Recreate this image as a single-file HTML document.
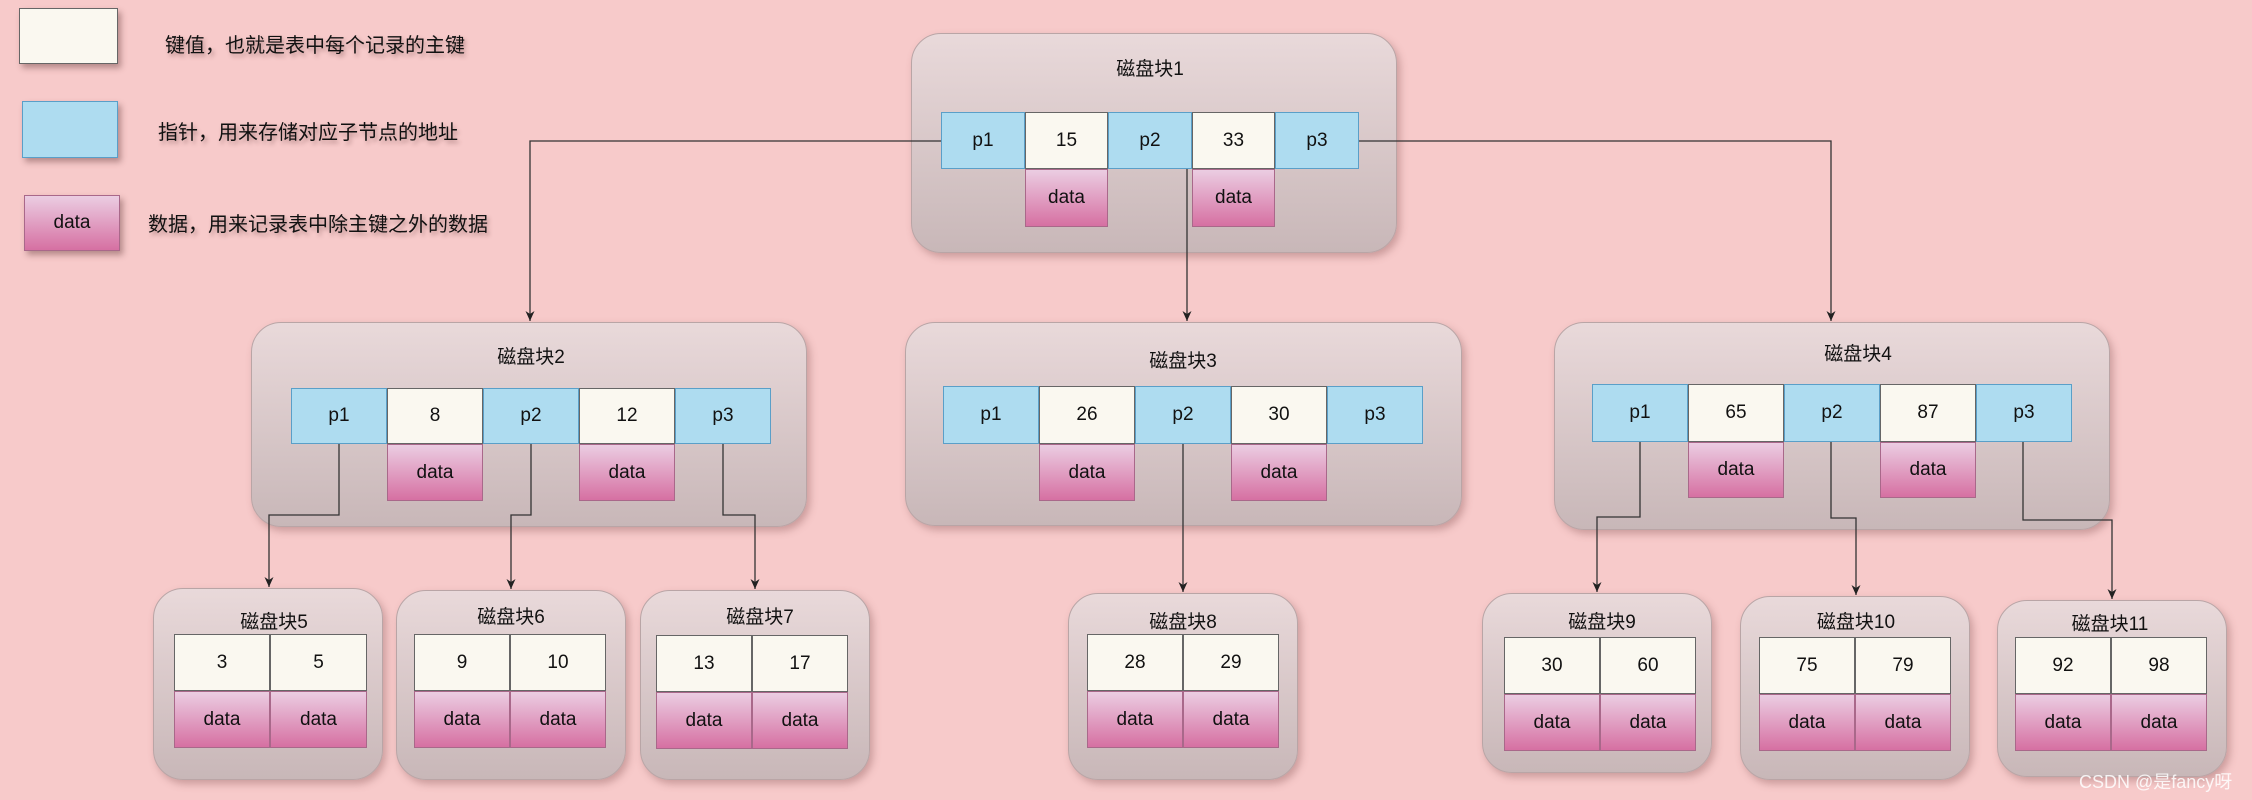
<!DOCTYPE html>
<html><head><meta charset="utf-8"><style>
body{margin:0;width:2252px;height:800px;background:#f7caca;position:relative;overflow:hidden;font-family:"Liberation Sans","Noto Sans CJK SC",sans-serif;color:#111}
.b{position:absolute;border-radius:30px;background:linear-gradient(#e9d9da,#c8b7b8);border:1px solid #b9a5a6;box-shadow:3px 4px 8px rgba(120,70,70,.35);box-sizing:border-box}
.c{position:absolute;box-sizing:border-box;display:flex;align-items:center;justify-content:center;font-size:19px}
.p{background:#aedcf0;border:1px solid #5a9fc8}
.k{background:#faf8f0;border:1px solid #666}
.d{background:linear-gradient(#ebcde2,#d670a2);border:1px solid #a9688a}
.t{position:absolute;font-size:19px;transform:translateX(-50%);white-space:nowrap}
.lg{position:absolute;font-size:20px;text-shadow:2px 3px 4px rgba(80,40,40,.4);white-space:nowrap}
</style></head><body>
<!-- legend -->
<div class="c k" style="left:19px;top:8px;width:99px;height:56px;box-shadow:3px 4px 6px rgba(80,40,40,.4)"></div>
<div class="lg" style="left:165px;top:29px">键值，也就是表中每个记录的主键</div>
<div class="c p" style="left:22px;top:101px;width:96px;height:57px;box-shadow:3px 4px 6px rgba(80,40,40,.4)"></div>
<div class="lg" style="left:158px;top:116px">指针，用来存储对应子节点的地址</div>
<div class="c d" style="left:24px;top:195px;width:96px;height:56px;box-shadow:3px 4px 6px rgba(80,40,40,.4)">data</div>
<div class="lg" style="left:148px;top:208px">数据，用来记录表中除主键之外的数据</div>

<!-- block1 -->
<div class="b" style="left:911px;top:33px;width:486px;height:220px"></div>
<div class="t" style="left:1150px;top:54px">磁盘块1</div>
<div class="c p" style="left:941px;top:112px;width:84px;height:57px">p1</div>
<div class="c k" style="left:1025px;top:112px;width:83px;height:57px">15</div>
<div class="c p" style="left:1108px;top:112px;width:84px;height:57px">p2</div>
<div class="c k" style="left:1192px;top:112px;width:83px;height:57px">33</div>
<div class="c p" style="left:1275px;top:112px;width:84px;height:57px">p3</div>
<div class="c d" style="left:1025px;top:169px;width:83px;height:58px">data</div>
<div class="c d" style="left:1192px;top:169px;width:83px;height:58px">data</div>

<!-- block2 -->
<div class="b" style="left:251px;top:322px;width:556px;height:205px"></div>
<div class="t" style="left:531px;top:342px">磁盘块2</div>
<div class="c p" style="left:291px;top:388px;width:96px;height:56px">p1</div>
<div class="c k" style="left:387px;top:388px;width:96px;height:56px">8</div>
<div class="c p" style="left:483px;top:388px;width:96px;height:56px">p2</div>
<div class="c k" style="left:579px;top:388px;width:96px;height:56px">12</div>
<div class="c p" style="left:675px;top:388px;width:96px;height:56px">p3</div>
<div class="c d" style="left:387px;top:444px;width:96px;height:57px">data</div>
<div class="c d" style="left:579px;top:444px;width:96px;height:57px">data</div>

<!-- block3 -->
<div class="b" style="left:905px;top:322px;width:557px;height:204px"></div>
<div class="t" style="left:1183px;top:346px">磁盘块3</div>
<div class="c p" style="left:943px;top:386px;width:96px;height:58px">p1</div>
<div class="c k" style="left:1039px;top:386px;width:96px;height:58px">26</div>
<div class="c p" style="left:1135px;top:386px;width:96px;height:58px">p2</div>
<div class="c k" style="left:1231px;top:386px;width:96px;height:58px">30</div>
<div class="c p" style="left:1327px;top:386px;width:96px;height:58px">p3</div>
<div class="c d" style="left:1039px;top:444px;width:96px;height:57px">data</div>
<div class="c d" style="left:1231px;top:444px;width:96px;height:57px">data</div>

<!-- block4 -->
<div class="b" style="left:1554px;top:322px;width:556px;height:208px"></div>
<div class="t" style="left:1858px;top:339px">磁盘块4</div>
<div class="c p" style="left:1592px;top:384px;width:96px;height:58px">p1</div>
<div class="c k" style="left:1688px;top:384px;width:96px;height:58px">65</div>
<div class="c p" style="left:1784px;top:384px;width:96px;height:58px">p2</div>
<div class="c k" style="left:1880px;top:384px;width:96px;height:58px">87</div>
<div class="c p" style="left:1976px;top:384px;width:96px;height:58px">p3</div>
<div class="c d" style="left:1688px;top:442px;width:96px;height:56px">data</div>
<div class="c d" style="left:1880px;top:442px;width:96px;height:56px">data</div>

<!-- leaves -->
<div class="b" style="left:153px;top:588px;width:230px;height:192px"></div>
<div class="t" style="left:274px;top:607px">磁盘块5</div>
<div class="c k" style="left:174px;top:634px;width:96px;height:57px">3</div>
<div class="c k" style="left:270px;top:634px;width:97px;height:57px">5</div>
<div class="c d" style="left:174px;top:691px;width:96px;height:57px">data</div>
<div class="c d" style="left:270px;top:691px;width:97px;height:57px">data</div>

<div class="b" style="left:396px;top:590px;width:230px;height:190px"></div>
<div class="t" style="left:511px;top:602px">磁盘块6</div>
<div class="c k" style="left:414px;top:634px;width:96px;height:57px">9</div>
<div class="c k" style="left:510px;top:634px;width:96px;height:57px">10</div>
<div class="c d" style="left:414px;top:691px;width:96px;height:57px">data</div>
<div class="c d" style="left:510px;top:691px;width:96px;height:57px">data</div>

<div class="b" style="left:640px;top:590px;width:230px;height:190px"></div>
<div class="t" style="left:760px;top:602px">磁盘块7</div>
<div class="c k" style="left:656px;top:635px;width:96px;height:57px">13</div>
<div class="c k" style="left:752px;top:635px;width:96px;height:57px">17</div>
<div class="c d" style="left:656px;top:692px;width:96px;height:57px">data</div>
<div class="c d" style="left:752px;top:692px;width:96px;height:57px">data</div>

<div class="b" style="left:1068px;top:593px;width:230px;height:187px"></div>
<div class="t" style="left:1183px;top:607px">磁盘块8</div>
<div class="c k" style="left:1087px;top:634px;width:96px;height:57px">28</div>
<div class="c k" style="left:1183px;top:634px;width:96px;height:57px">29</div>
<div class="c d" style="left:1087px;top:691px;width:96px;height:57px">data</div>
<div class="c d" style="left:1183px;top:691px;width:96px;height:57px">data</div>

<div class="b" style="left:1482px;top:593px;width:230px;height:180px"></div>
<div class="t" style="left:1602px;top:607px">磁盘块9</div>
<div class="c k" style="left:1504px;top:637px;width:96px;height:57px">30</div>
<div class="c k" style="left:1600px;top:637px;width:96px;height:57px">60</div>
<div class="c d" style="left:1504px;top:694px;width:96px;height:57px">data</div>
<div class="c d" style="left:1600px;top:694px;width:96px;height:57px">data</div>

<div class="b" style="left:1740px;top:596px;width:230px;height:184px"></div>
<div class="t" style="left:1856px;top:607px">磁盘块10</div>
<div class="c k" style="left:1759px;top:637px;width:96px;height:57px">75</div>
<div class="c k" style="left:1855px;top:637px;width:96px;height:57px">79</div>
<div class="c d" style="left:1759px;top:694px;width:96px;height:57px">data</div>
<div class="c d" style="left:1855px;top:694px;width:96px;height:57px">data</div>

<div class="b" style="left:1997px;top:600px;width:230px;height:177px"></div>
<div class="t" style="left:2110px;top:609px">磁盘块11</div>
<div class="c k" style="left:2015px;top:637px;width:96px;height:57px">92</div>
<div class="c k" style="left:2111px;top:637px;width:96px;height:57px">98</div>
<div class="c d" style="left:2015px;top:694px;width:96px;height:57px">data</div>
<div class="c d" style="left:2111px;top:694px;width:96px;height:57px">data</div>

<svg style="position:absolute;left:0;top:0" width="2252" height="800">
<defs><marker id="a" markerWidth="10" markerHeight="10" refX="5" refY="9" orient="auto" markerUnits="userSpaceOnUse"><path d="M0,0 L5,9 L10,0 L5,3 Z" fill="#222" transform="rotate(-90 5 5)"/></marker>
<marker id="m" markerWidth="10" markerHeight="12" refX="5" refY="11" markerUnits="userSpaceOnUse"><path d="M0.5,1 L5,11 L9.5,1 L5,4 Z" fill="#222"/></marker></defs>
<g fill="none" stroke="#333" stroke-width="1.3" marker-end="url(#m)">
<path d="M941,141 H530 V321"/>
<path d="M1187,169 V321"/>
<path d="M1359,141 H1831 V321"/>
<path d="M339,444 V515 H269 V587"/>
<path d="M531,444 V515 H511 V589"/>
<path d="M723,444 V515 H755 V589"/>
<path d="M1183,444 V592"/>
<path d="M1640,442 V517 H1597 V592"/>
<path d="M1831,442 V518 H1856 V595"/>
<path d="M2023,442 V520 H2112 V599"/>
</g></svg>
<div style="position:absolute;left:2079px;top:768px;font-size:18px;color:#fff;opacity:.85">CSDN @是fancy呀</div>
</body></html>
